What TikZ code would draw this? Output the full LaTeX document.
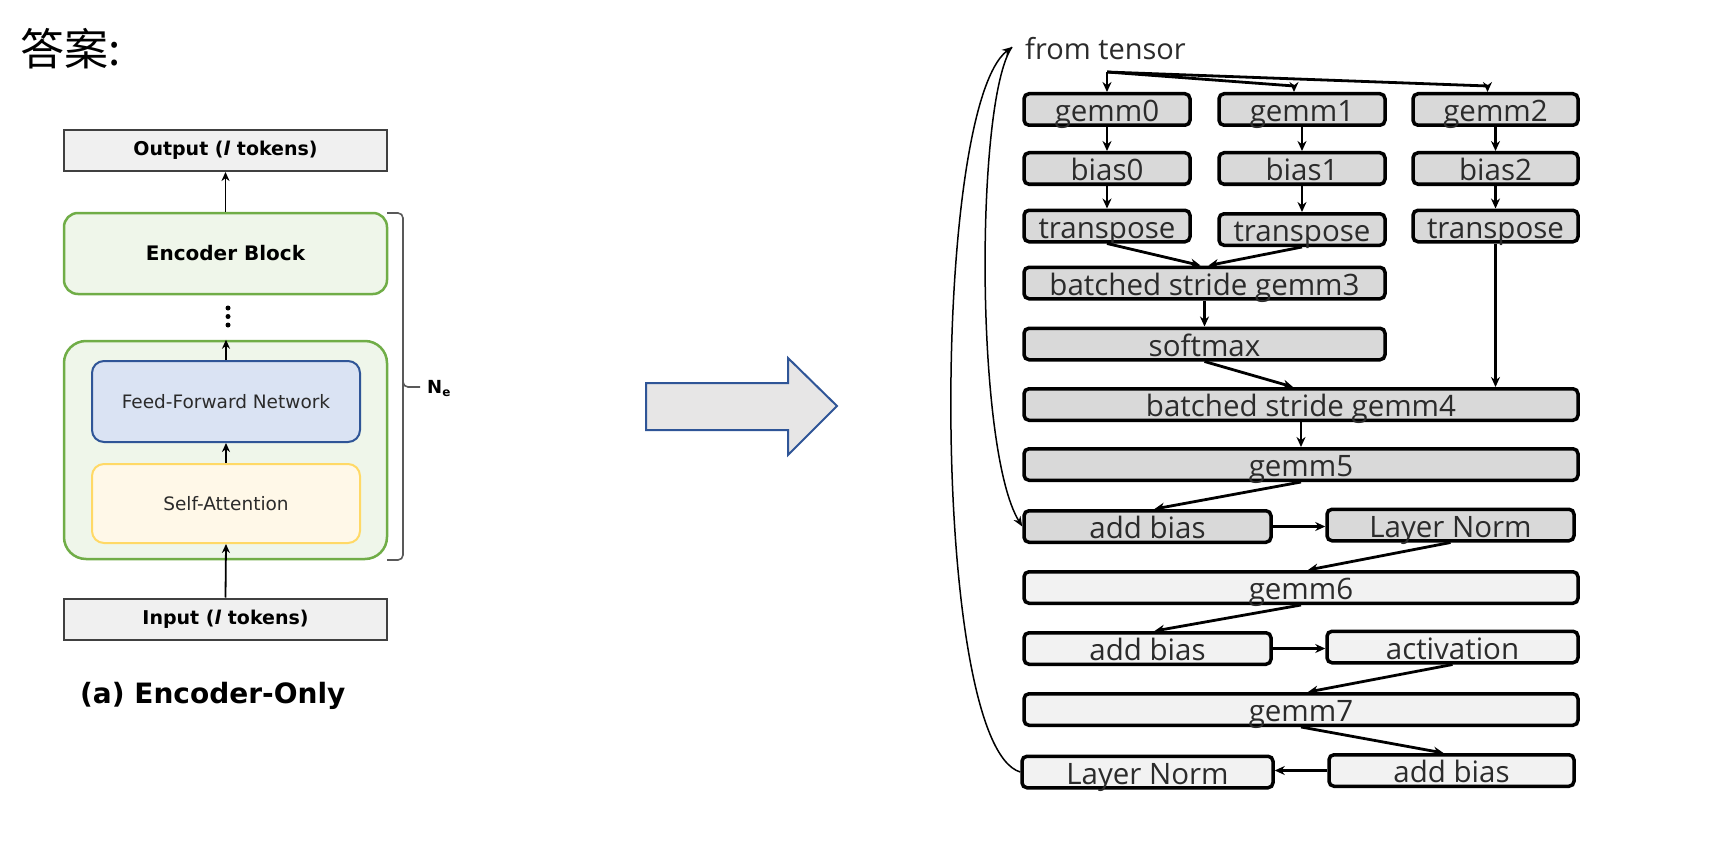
\documentclass[tikz,border=0pt]{standalone}
\usepackage{fontspec}
\usetikzlibrary{arrows.meta,calc}
\newfontfamily\cjkfont{Noto Sans CJK SC}
\newfontfamily\dejavu{DejaVu Sans}
\newfontfamily\osans{Open Sans}
\definecolor{boxdark}{HTML}{D9D9D9}
\definecolor{boxlight}{HTML}{F2F2F2}
\definecolor{txtgray}{HTML}{2B2B2B}
\definecolor{encgreen}{HTML}{70AD47}
\definecolor{encfill}{HTML}{EFF6EA}
\definecolor{ffnblue}{HTML}{2F5597}
\definecolor{ffnfill}{HTML}{DAE3F3}
\definecolor{sayellow}{HTML}{FFD966}
\definecolor{safill}{HTML}{FFF8E8}
\definecolor{iofill}{HTML}{F0F0F0}
\definecolor{iodraw}{HTML}{404040}
\definecolor{arrowfill}{HTML}{E7E6E6}
\definecolor{bracecol}{HTML}{595959}
\tikzset{
  opbox/.style={draw=black, line width=3.5pt, rounded corners=5pt, minimum height=31.5pt,
    inner sep=0pt, text height=24pt, text depth=0pt,
    font=\osans\fontsize{29.5}{30}\selectfont, text=txtgray},
  dk/.style={opbox, fill=boxdark},
  lt/.style={opbox, fill=boxlight},
  conn/.style={line width=2.8pt, -{Stealth[length=10pt,width=9pt]}},
  plainconn/.style={line width=2.8pt},
  back/.style={line width=1.5pt, -{Stealth[length=10pt,width=8pt]}},
  iobox/.style={draw=iodraw, line width=2pt, fill=iofill, minimum width=323pt, minimum height=41pt,
    inner sep=0pt, font=\dejavu\bfseries\fontsize{19}{20}\selectfont, text=black},
  encbox/.style={draw=encgreen, line width=2.5pt, fill=encfill, minimum width=323pt, inner sep=0pt},
  larrow/.style={line width=1.8pt, black, -{Stealth[length=9pt,width=8pt]}}
}
\begin{document}
\begin{tikzpicture}[x=1pt,y=-1pt]
\useasboundingbox (0,0) rectangle (1730,848);

% title
\node[anchor=base west, inner sep=0pt, font=\cjkfont\fontsize{44}{44}\selectfont] (ans) at (20,66) {答案:};

% ---------------- left diagram ----------------
\node[iobox] (out) at (225.5,150.5) {Output (\textit{l} tokens)};
\node[encbox, minimum height=81pt, rounded corners=14pt, font=\dejavu\bfseries\fontsize{20}{22}\selectfont] (eb) at (225.5,253.5) {Encoder Block};
\node[encbox, minimum height=218pt, rounded corners=22pt] (outer) at (225.5,450) {};
\node[draw=ffnblue, line width=2pt, fill=ffnfill, rounded corners=12pt, minimum width=268pt, minimum height=81pt,
  font=\dejavu\fontsize{18.5}{20}\selectfont, text=txtgray] (ffn) at (226,401.5) {Feed-Forward Network};
\node[draw=sayellow, line width=2pt, fill=safill, rounded corners=12pt, minimum width=268pt, minimum height=79pt,
  font=\dejavu\fontsize{18.5}{20}\selectfont, text=txtgray] (sa) at (226,503.5) {Self-Attention};
\node[iobox] (in) at (225.5,619) {Input (\textit{l} tokens)};

\draw[larrow] (eb.north) -- (out.south);
\draw[larrow] (ffn.north) -- (ffn.north |- outer.north);
\draw[larrow] (sa.north) -- (ffn.south);
\draw[larrow] (in.north) -- (sa.south);

\fill (228,308) circle (2.5);
\fill (228,316.5) circle (2.5);
\fill (228,325) circle (2.5);

\draw[bracecol, line width=1.6pt, rounded corners=5pt] (387,213) -- (403,213) -- (403,387) -- (420,387);
\draw[bracecol, line width=1.6pt, rounded corners=5pt] (403,380) -- (403,560) -- (387,560);
\node[anchor=base west, inner sep=0pt, font=\dejavu\bfseries\fontsize{18}{20}\selectfont] (ne) at (427,393)
  {N\raisebox{-3.5pt}{\fontsize{12}{12}\selectfont e}};

\node[anchor=base west, inner sep=0pt, font=\dejavu\bfseries\fontsize{28}{29}\selectfont] (cap) at (80,703) {(a) Encoder-Only};

% big arrow
\draw[fill=arrowfill, draw=ffnblue, line width=2pt, line join=miter]
  (646,383) -- (788,383) -- (788,358) -- (837,406) -- (788,455) -- (788,430) -- (646,430) -- cycle;

% ---------------- right diagram ----------------
\node[anchor=base west, inner sep=0pt, font=\osans\fontsize{29}{30}\selectfont, text=txtgray] (ft) at (1025,60) {from tensor};
\coordinate (ftin) at (1012,47);
\coordinate (split) at (1107,72);

\node[dk, minimum width=166pt] (g0) at (1107,109.5) {gemm0};
\node[dk, minimum width=166pt] (g1) at (1302,109.5) {gemm1};
\node[dk, minimum width=165pt] (g2) at (1495.5,109.5) {gemm2};
\node[dk, minimum width=166pt] (b0) at (1107,168.5) {bias0};
\node[dk, minimum width=166pt] (b1) at (1302,168.5) {bias1};
\node[dk, minimum width=165pt] (b2) at (1495.5,168.5) {bias2};
\node[dk, minimum width=166pt] (t0) at (1107,226) {transpose};
\node[dk, minimum width=166pt] (t1) at (1302,229.5) {transpose};
\node[dk, minimum width=165pt] (t2) at (1495.5,226) {transpose};
\node[dk, minimum width=361pt] (g3) at (1204.5,283) {batched stride gemm3};
\node[dk, minimum width=361pt] (sm) at (1204.5,344) {softmax};
\node[dk, minimum width=554pt] (g4) at (1301,404.5) {batched stride gemm4};
\node[dk, minimum width=554pt] (g5) at (1301,464.5) {gemm5};
\node[dk, minimum width=247pt] (ab1) at (1147.5,526.5) {add bias};
\node[dk, minimum width=247pt] (ln1) at (1450.5,525) {Layer Norm};
\node[lt, minimum width=554pt] (g6) at (1301,587.5) {gemm6};
\node[lt, minimum width=247pt] (ab2) at (1147.5,648.5) {add bias};
\node[lt, minimum width=251pt] (act) at (1452.5,647) {activation};
\node[lt, minimum width=554pt] (g7) at (1301,709.5) {gemm7};
\node[lt, minimum width=251pt] (ln2) at (1147.5,772) {Layer Norm};
\node[lt, minimum width=245pt] (ab3) at (1451.5,770.5) {add bias};

\draw[conn] (split) -- (g0.north);
\draw[plainconn] (split) -- ([xshift=-8pt,yshift=6pt]g1.north);
\draw[conn] ([xshift=-8pt,yshift=6pt]g1.north) -- ([xshift=-8pt]g1.north);
\draw[plainconn] (split) -- ([xshift=-8pt,yshift=6pt]g2.north);
\draw[conn] ([xshift=-8pt,yshift=6pt]g2.north) -- ([xshift=-8pt]g2.north);
\draw[conn] (g0) -- (b0);
\draw[conn] (b0) -- (t0);
\draw[conn] (g1) -- (b1);
\draw[conn] (b1) -- (t1);
\draw[conn] (g2) -- (b2);
\draw[conn] (b2) -- (t2);
\draw[conn] (t0.south) -- ([xshift=-4pt]g3.north);
\draw[conn] (t1.south) -- ([xshift=4pt]g3.north);
\draw[conn] (t2.south) -- (t2.south |- g4.north);
\draw[conn] (g3) -- (sm);
\draw[conn] (sm.south) -- ([xshift=-8pt]g4.north);
\draw[conn] (g4) -- (g5);
\draw[conn] (g5.south) -- ([xshift=7pt]ab1.north);
\draw[conn] (ab1.east) -- (ab1.east -| ln1.west);
\draw[conn] (ln1.south) -- ([xshift=7pt]g6.north);
\draw[conn] (g6.south) -- ([xshift=7pt]ab2.north);
\draw[conn] (ab2.east) -- (ab2.east -| act.west);
\draw[conn] (act.south) -- ([xshift=7pt]g7.north);
\draw[conn] (g7.south) -- ([xshift=-8pt]ab3.north);
\draw[conn] (ab3.west) -- (ab3.west -| ln2.east);

\draw[back] (ln2.west) .. controls (930,745) and (930,110) .. (ftin);
\draw[back] (ftin) .. controls (975,100) and (975,450) .. (ab1.west);
\end{tikzpicture}
\end{document}
